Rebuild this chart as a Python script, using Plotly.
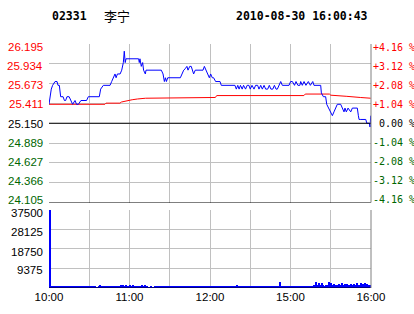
import plotly.graph_objects as go

# ---------------- data ----------------
code = "02331"
name = "李宁"
stamp = "2010-08-30 16:00:43"
prev_close = 25.150

price_ticks = ["26.195", "25.934", "25.673", "25.411", "25.150",
               "24.889", "24.627", "24.366", "24.105"]
pct_ticks = ["+4.16 %", "+3.12 %", "+2.08 %", "+1.04 %", "\u00a00.00 %",
             "-1.04 %", "-2.08 %", "-3.12 %", "-4.16 %"]
vol_ticks = [37500, 28125, 18750, 9375]
time_ticks = [0, 30, 60, 90, 120, 150, 180, 210, 240]
time_labels = ["10:00", "", "11:00", "", "12:00", "", "15:00", "", "16:00"]

# minutes after 10:00 (trading minutes) and price
price_t = [0, 1.7, 2.7, 4.5, 6.0, 6.7, 7.7, 8.7, 10.5, 11.5, 12.4, 13.4, 15.0, 16.2,
           17.6, 19.4, 20.5, 21.9, 23.8, 28.0, 29.3, 37.5, 38.5, 40.5, 45.5, 46.7,
           47.9, 49.2, 50.0, 51.0, 53.0, 54.2, 55.4, 56.1, 56.8, 57.4, 66.8, 67.3,
           67.8, 68.8, 69.8, 70.5, 71.8, 72.3, 83.7, 85.0, 86.0, 86.8, 87.5, 88.5,
           97.9, 99.1, 100.4, 101.6, 102.8, 103.6, 104.9, 106.0, 107.0, 107.8, 109.0,
           110.2, 114.8, 115.8, 117.0, 118.3, 119.5, 120.5, 121.7, 122.7, 124.2,
           127.5, 128.4, 138.6, 139.6, 140.7, 141.7, 142.7, 144.0, 145.0, 146.5,
           147.7, 149.0, 150.0, 151.3, 152.8, 154.0, 155.5, 156.5, 157.8, 159.0,
           160.3, 161.5, 163.0, 164.2, 165.4, 166.8, 168.0, 169.2, 170.2, 171.4,
           172.7, 173.9, 178.9, 180.1, 181.4, 183.0, 184.1, 185.5, 187.0, 187.6,
           188.8, 190.1, 191.5, 193.3, 194.8, 196.6, 197.5, 202.5, 203.0, 204.5,
           206.2, 207.0, 208.2, 210.0, 211.2, 212.4, 213.7, 214.9, 217.4, 218.6,
           219.9, 220.6, 221.6, 222.9, 224.9, 226.1, 229.8, 230.6, 231.1, 232.4,
           233.6, 236.1, 236.9, 237.8, 238.8, 239.3, 239.8]
price_v = [25.40, 25.60, 25.65, 25.70, 25.70, 25.65, 25.65, 25.50, 25.50, 25.45, 25.45,
           25.50, 25.50, 25.45, 25.40, 25.45, 25.40, 25.40, 25.45, 25.45, 25.50, 25.50,
           25.60, 25.65, 25.65, 25.70, 25.75, 25.80, 25.75, 25.80, 25.80, 25.85, 25.95,
           26.10, 25.95, 26.00, 26.00, 25.95, 26.00, 25.90, 25.95, 25.85, 25.80, 25.85,
           25.85, 25.80, 25.70, 25.75, 25.70, 25.75, 25.75, 25.80, 25.85, 25.87, 25.90,
           25.85, 25.90, 25.90, 25.85, 25.80, 25.85, 25.85, 25.85, 25.90, 25.85, 25.80,
           25.75, 25.80, 25.75, 25.75, 25.70, 25.70, 25.65, 25.65, 25.60, 25.65, 25.60,
           25.65, 25.60, 25.65, 25.60, 25.65, 25.65, 25.60, 25.65, 25.60, 25.65, 25.65,
           25.60, 25.65, 25.60, 25.65, 25.60, 25.60, 25.65, 25.60, 25.60, 25.65, 25.60,
           25.60, 25.65, 25.70, 25.65, 25.65, 25.70, 25.70, 25.65, 25.70, 25.65, 25.65,
           25.70, 25.65, 25.70, 25.65, 25.70, 25.65, 25.70, 25.65, 25.65, 25.55, 25.50,
           25.50, 25.40, 25.35, 25.30, 25.25, 25.30, 25.35, 25.40, 25.40, 25.35, 25.30,
           25.35, 25.30, 25.35, 25.30, 25.35, 25.35, 25.25, 25.20, 25.20, 25.20, 25.20,
           25.15, 25.15, 25.15, 25.10, 25.25]

avg_t = [0, 41.7, 42.5, 52.9, 54.0, 57.0, 62.0, 66.0, 72.0, 124.0, 125.0, 190.0,
         191.0, 209.0, 210.0, 222.0, 230.0, 232.0, 239.8]
avg_v = [25.40, 25.40, 25.415, 25.415, 25.43, 25.445, 25.46, 25.47, 25.48, 25.49,
         25.515, 25.515, 25.535, 25.535, 25.52, 25.505, 25.50, 25.49, 25.48]

volume = [
    37500, 1000, 900, 1000, 1000, 900, 1000, 1000, 900, 1000,
    1000, 900, 1000, 1000, 900, 1000, 1000, 900, 1000, 1000,
    900, 1000, 1000, 900, 1000, 1000, 900, 1000, 1000, 900,
    1000, 1000, 900, 1000, 1000, 300, 200, 900, 1500, 1000,
    1000, 900, 1000, 1000, 900, 1000, 1000, 900, 1000, 1000,
    1100, 1000, 1200, 1400, 1000, 1500, 1100, 1400, 1000, 1100,
    1500, 1000, 1400, 1000, 900, 1000, 1000, 900, 1000, 1400,
    1100, 1500, 1000, 900, 300, 200, 900, 200, 300, 1000,
    900, 1000, 1000, 900, 1000, 1000, 900, 1000, 1000, 900,
    1000, 1000, 900, 1000, 1000, 900, 1000, 1000, 900, 1000,
    1000, 900, 1000, 1000, 900, 1000, 1000, 900, 1000, 1000,
    900, 1000, 1000, 900, 1000, 1000, 900, 1000, 1000, 900,
    1000, 1000, 900, 1000, 1000, 900, 1000, 1000, 900, 1000,
    1000, 900, 1000, 1000, 900, 1000, 1000, 900, 1000, 1000,
    1300, 1000, 900, 1000, 1000, 900, 1000, 1000, 900, 1000,
    1000, 900, 1000, 1000, 900, 1000, 1000, 900, 1000, 1000,
    900, 1000, 1000, 900, 1000, 1000, 900, 1000, 1000, 900,
    1000, 1000, 3000, 1000, 900, 1000, 1000, 900, 1000, 1000,
    900, 1000, 1000, 900, 1000, 1000, 900, 1000, 1000, 900,
    1000, 1000, 900, 1000, 1000, 900, 1200, 1300, 1400, 3000,
    1500, 2600, 1300, 2200, 1500, 1200, 1400, 1300, 2700, 1500,
    2200, 1400, 1700, 1300, 1500, 1400, 1700, 1300, 2300, 1500,
    1700, 1300, 1800, 1400, 1500, 1700, 1300, 1800, 1400, 2200,
    1500, 1400, 2300, 1400, 1800, 2200, 1400, 1800, 1500, 1400,
    1600]
vol_t = list(range(len(volume)))

# ---------------- styles ----------------
RED = "#ff0000"
GREEN = "#006600"
GRID = "#c0c0c0"

mid = price_ticks.index("25.150")
price_vals = [float(s) for s in price_ticks]
yrange = [price_vals[-1], price_vals[0]]


def label_color(i):
    if i < mid:
        return RED
    if i > mid:
        return GREEN
    return "#000000"


fig = go.Figure()
fig.add_trace(go.Scatter(x=avg_t, y=avg_v, mode="lines", xaxis="x", yaxis="y",
                         line=dict(color=RED, width=1), hoverinfo="skip"))
fig.add_trace(go.Scatter(x=price_t, y=price_v, mode="lines", xaxis="x", yaxis="y",
                         line=dict(color="#0000ff", width=1), hoverinfo="skip"))
fig.add_trace(go.Bar(x=vol_t, y=volume, xaxis="x2", yaxis="y2", offset=0, width=0.85,
                     marker=dict(color="#0000ff", line=dict(width=0)), hoverinfo="skip"))

fig.update_layout(
    width=414, height=314,
    margin=dict(l=49, r=43, t=44, b=26, pad=0, autoexpand=False),
    paper_bgcolor="white", plot_bgcolor="white",
    showlegend=False, bargap=0,
    font=dict(family="Liberation Sans", size=11, color="black"),
    xaxis=dict(domain=[0, 1], anchor="y", range=[0, 240], tickvals=time_ticks,
               showticklabels=False, showgrid=True, gridcolor=GRID, gridwidth=1,
               zeroline=False, showline=False, ticks="", automargin=False),
    yaxis=dict(domain=[0.3504, 1], anchor="x", range=yrange, tickvals=price_vals,
               showticklabels=False, showgrid=True, gridcolor=GRID, gridwidth=1,
               zeroline=False, showline=False, ticks="", automargin=False),
    xaxis2=dict(domain=[0, 1], anchor="y2", range=[0, 240], tickvals=time_ticks,
                ticktext=time_labels, showgrid=True, gridcolor=GRID, gridwidth=1,
                zeroline=False, showline=False, ticks="", automargin=False,
                tickfont=dict(family="Liberation Sans", size=11.5)),
    yaxis2=dict(domain=[0, 0.3197], anchor="x2", range=[0, vol_ticks[0]],
                tickvals=vol_ticks, showticklabels=False, showgrid=True,
                gridcolor=GRID, gridwidth=1, zeroline=False, showline=False,
                ticks="", automargin=False),
)

shapes = [
    dict(type="line", xref="x domain", x0=0, x1=1, yref="y", y0=prev_close, y1=prev_close,
         line=dict(color="black", width=1)),
    dict(type="line", xref="x domain", x0=0, x1=1, yref="y", y0=yrange[0], y1=yrange[0],
         line=dict(color="black", width=1)),
    dict(type="line", xref="x2 domain", x0=0, x1=1, yref="y2", y0=0, y1=0,
         line=dict(color="black", width=1)),
    dict(type="line", xref="x domain", x0=1, x1=1, yref="y domain", y0=0, y1=1,
         line=dict(color="#808080", width=1)),
    dict(type="line", xref="x2 domain", x0=1, x1=1, yref="y2 domain", y0=0, y1=1,
         line=dict(color="#808080", width=1)),
]
fig.update_layout(shapes=shapes)

# price (left) and percent (right) labels, slightly compressed toward the centre
for i, (v, lt, rt) in enumerate(zip(price_vals, price_ticks, pct_ticks)):
    shift = -3.3 + 0.76 * i
    c = label_color(i)
    fig.add_annotation(text=lt, xref="paper", yref="y", x=0, y=v, xanchor="right",
                       yanchor="middle", xshift=-4, yshift=shift, showarrow=False,
                       font=dict(family="Liberation Sans", size=11.5, color=c))
    fig.add_annotation(text=rt, xref="paper", yref="y", x=1, y=v, xanchor="left",
                       yanchor="middle", xshift=0, yshift=shift, showarrow=False,
                       font=dict(family="DejaVu Sans Mono", size=10, color=c))

# volume labels
for v, s in zip(vol_ticks, [-3.2, -2.8, -2.8, -1.5]):
    fig.add_annotation(text=str(v), xref="paper", yref="y2", x=0, y=v, xanchor="right",
                       yanchor="middle", xshift=-4, yshift=s, showarrow=False,
                       font=dict(family="Liberation Sans", size=11.5, color="black"))

title_font = dict(family="DejaVu Sans Mono", size=11.5, color="black")
fig.add_annotation(text=f"<b>{code}</b>", xref="paper", yref="paper", x=0.003, y=1.1148,
                   xanchor="left", yanchor="middle", showarrow=False, font=title_font)
fig.add_annotation(text=name, xref="paper", yref="paper", x=0.165, y=1.1148,
                   xanchor="left", yanchor="middle", showarrow=False,
                   font=dict(family="Noto Sans CJK SC", size=13, color="black"))
fig.add_annotation(text=f"<b>{stamp}</b>", xref="paper", yref="paper", x=0.9969, y=1.1148,
                   xanchor="right", yanchor="middle", showarrow=False, font=title_font)

fig.write_html("out.html")
